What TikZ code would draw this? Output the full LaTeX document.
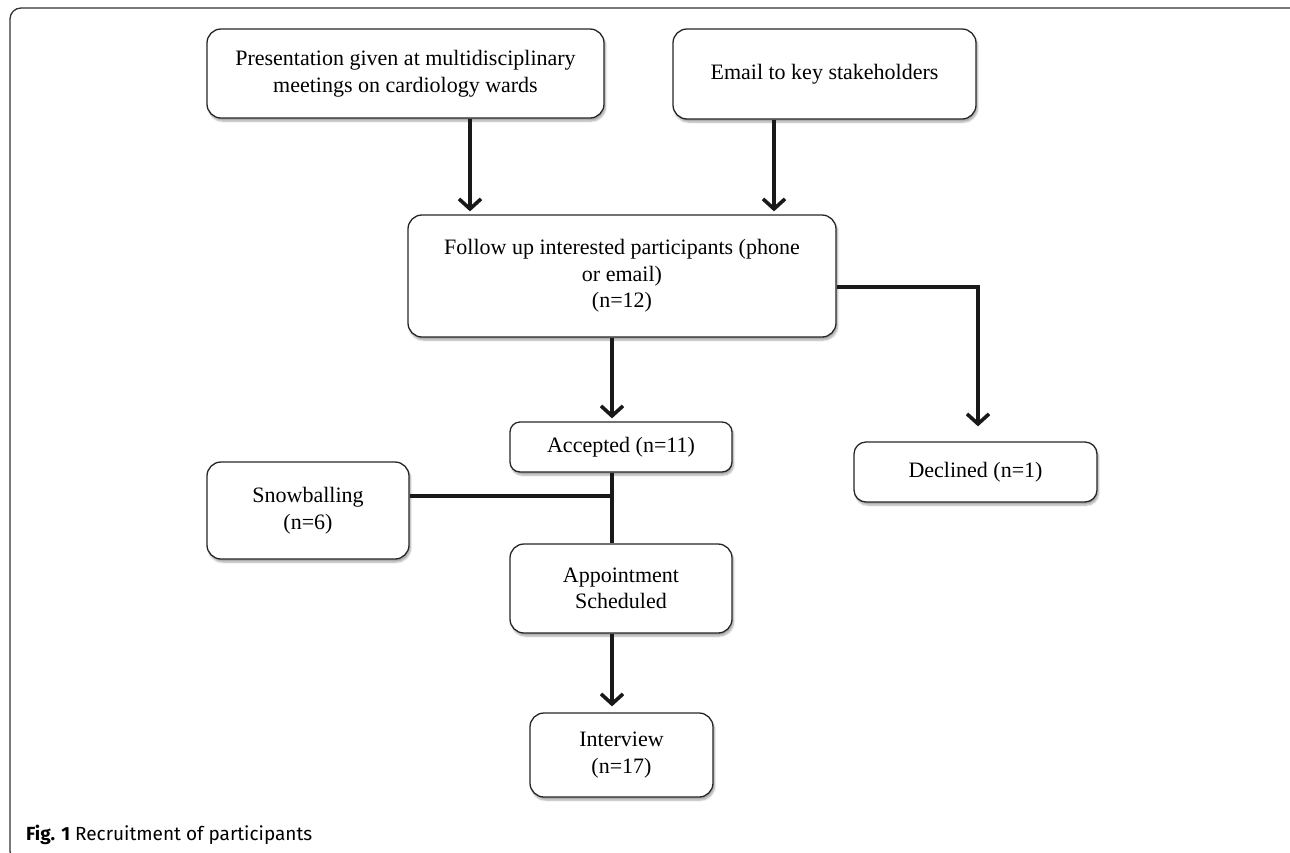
\documentclass[tikz,border=0pt]{standalone}
\usepackage{fontspec}
\setmainfont{Liberation Serif}
\newfontfamily\capfont{Fira Sans}
\usetikzlibrary{arrows.meta,shadows.blur,calc}
\tikzset{
  box/.style={draw=black!85, line width=1.3pt, rounded corners=14pt, fill=white,
    align=center, inner sep=0pt,
    blur shadow={shadow xshift=1.5pt, shadow yshift=-3pt, shadow blur steps=6, shadow opacity=35},
    font=\fontsize{22}{26.5}\selectfont},
  conn/.style={line width=3.6pt, black!90},
  arr/.style={conn, -{Straight Barb[length=10pt,width=22pt,line width=3.6pt]}},
}
\begin{document}
\begin{tikzpicture}[x=1pt,y=-1pt]
\clip (0,0) rectangle (1290,852);
\useasboundingbox (0,0) rectangle (1290,852);
\draw[line width=1.3pt, black!80, rounded corners=11pt] (10,8) rectangle (1302,862);

\node[box, minimum width=397pt, minimum height=89pt] (pres) at (405.5,73.5)
  {Presentation given at multidisciplinary\\meetings on cardiology wards};
\node[box, minimum width=303pt, minimum height=90pt] (email) at (824.5,74)
  {Email to key stakeholders};
\node[box, minimum width=428pt, minimum height=122pt] (follow) at (622,276)
  {Follow up interested participants (phone\\or email)\\(n=12)};
\node[box, minimum width=222pt, minimum height=50pt, rounded corners=10pt] (acc) at (621,447)
  {Accepted (n=11)};
\node[box, minimum width=243pt, minimum height=60pt, rounded corners=12pt] (decl) at (975.5,472)
  {Declined (n=1)};
\node[box, minimum width=202pt, minimum height=97pt] (snow) at (308,510.5)
  {Snowballing\\(n=6)};
\node[box, minimum width=222pt, minimum height=89pt] (appt) at (621,588.5)
  {Appointment\\Scheduled};
\node[box, minimum width=183pt, minimum height=84pt] (intv) at (621.5,755)
  {Interview\\(n=17)};

\draw[arr, shorten >=3pt] (470,0 |- pres.south) -- (470,0 |- follow.north);
\draw[arr, shorten >=3pt] (774,0 |- email.south) -- (774,0 |- follow.north);
\draw[arr, shorten >=3pt] (612,0 |- follow.south) -- (612,0 |- acc.north);
\coordinate (branch) at (978,287);
\draw[arr, shorten >=15pt] (follow.east |- branch) -- (branch) -- (branch |- decl.north);
\coordinate (join) at (612,496);
\draw[conn] (snow.east |- join) -- (join);
\draw[conn] (612,0 |- acc.south) -- (612,0 |- appt.north);
\draw[arr, shorten >=6pt] (612,0 |- appt.south) -- (612,0 |- intv.north);

\node[anchor=base west, inner sep=0pt, font=\capfont\fontsize{19}{22}\selectfont] (cap) at (26,840)
  {\textbf{Fig. 1} Recruitment of participants};
\end{tikzpicture}
\end{document}
